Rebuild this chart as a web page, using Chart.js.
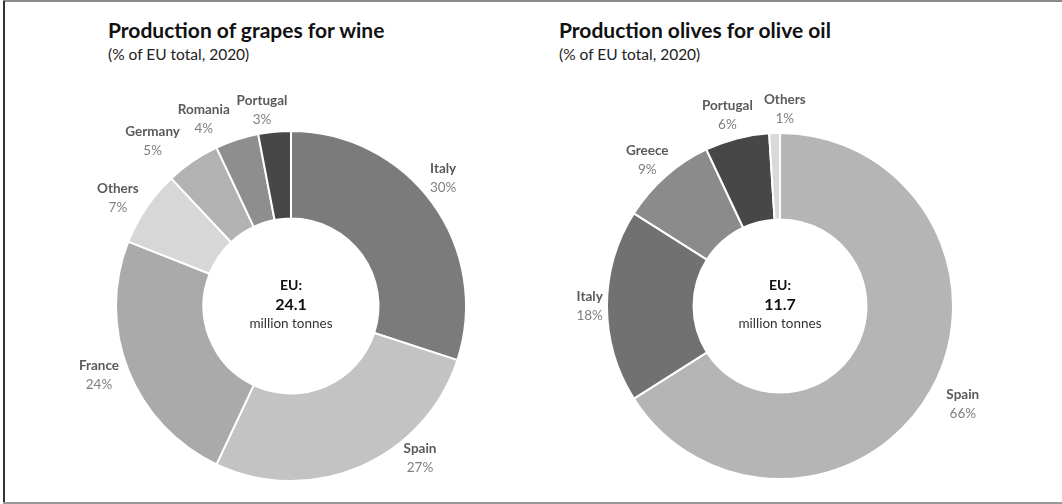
<!DOCTYPE html>
<html>
<head>
<meta charset="utf-8">
<script src="https://cdn.jsdelivr.net/npm/chart.js@4.4.1/dist/chart.umd.min.js"></script>
<style>
  html, body { margin: 0; padding: 0; background: #fff; }
  #wrap { position: relative; width: 1062px; height: 504px; overflow: hidden; background: #fff;
          font-family: Lato, "Open Sans", sans-serif; }
  .bt { position: absolute; left: 3px; right: 0; top: 0; height: 2px; background: #8a8a8a; }
  .bl { position: absolute; left: 3px; top: 1px; bottom: 0; width: 2px; background: #333; }
  .bb { position: absolute; left: 3px; right: 0; bottom: 0; height: 2px; background: #9a9a9a; }
  .title { position: absolute; font-weight: bold; font-size: 21px; color: #111; white-space: nowrap; }
  .sub { position: absolute; font-size: 15.5px; color: #222; white-space: nowrap; }
  canvas { position: absolute; top: 0; }
</style>
</head>
<body>
<div id="wrap">
  <div class="bt"></div><div class="bl"></div><div class="bb"></div>
  <div class="title" style="left:108px; top:17px;">Production of grapes for wine</div>
  <div class="sub" style="left:108px; top:45px;">(% of EU total, 2020)</div>
  <div class="title" style="left:559px; top:17px;">Production olives for olive oil</div>
  <div class="sub" style="left:559px; top:45px;">(% of EU total, 2020)</div>
  <canvas id="c1" width="531" height="504" style="left:0;"></canvas>
  <canvas id="c2" width="531" height="504" style="left:531px;"></canvas>
</div>
<script>
// ---- Data ----
const grapeCountries = ["Italy", "Spain", "France", "Others", "Germany", "Romania", "Portugal"];
const grapeShares    = [30, 27, 24, 7, 5, 4, 3];
const grapeTotal     = "24.1";

const oliveCountries = ["Spain", "Italy", "Greece", "Portugal", "Others"];
const oliveShares    = [66, 18, 9, 6, 1];
const oliveTotal     = "11.7";

// ---- Styling / layout (not data) ----
const grapeColors = ["#7b7b7b", "#c3c3c3", "#aaaaaa", "#d7d7d7", "#b2b2b2", "#8e8e8e", "#474747"];
const oliveColors = ["#b5b5b5", "#717171", "#8b8b8b", "#474747", "#d9d9d9"];
// label placement: [angle from top (deg, clockwise), distance / outer radius]
const grapeLabelPos = [[50, 1.135], [139.7, 1.14], [250.1, 1.167], [301.9, 1.165], [320, 1.23], [335, 1.18], [351.6, 1.134]];
const oliveLabelPos = [[118.3, 1.2], [270, 1.1], [317.7, 1.14], [344.6, 1.145], [1.4, 1.14]];

const labelPlugin = {
  id: 'donutLabels',
  afterDraw(chart, args, opts) {
    const ctx = chart.ctx;
    const meta = chart.getDatasetMeta(0);
    const arc0 = meta.data[0];
    const cx = arc0.x, cy = arc0.y, R = arc0.outerRadius;
    const labels = chart.data.labels;
    const vals = chart.data.datasets[0].data;
    ctx.save();
    ctx.textAlign = 'center';
    ctx.textBaseline = 'middle';
    labels.forEach((lab, i) => {
      const [ang, f] = opts.pos[i];
      const a = ang * Math.PI / 180;
      const x = cx + R * f * Math.sin(a);
      const y = cy - R * f * Math.cos(a);
      ctx.font = 'bold 13.5px Lato, "Open Sans", sans-serif';
      ctx.fillStyle = '#5a5a5a';
      ctx.fillText(lab, x, y - 9.5);
      ctx.font = '13.5px Lato, "Open Sans", sans-serif';
      ctx.fillStyle = '#7f7f7f';
      ctx.fillText(vals[i] + '%', x, y + 9.5);
    });
    // center text
    ctx.fillStyle = '#111';
    ctx.font = 'bold 14px Lato, "Open Sans", sans-serif';
    ctx.fillText('EU:', cx, cy - 21);
    ctx.font = 'bold 16px Lato, "Open Sans", sans-serif';
    ctx.fillText(opts.total, cx, cy - 1);
    ctx.font = '13.5px Lato, "Open Sans", sans-serif';
    ctx.fillStyle = '#333';
    ctx.fillText('million tonnes', cx, cy + 18);
    ctx.restore();
  }
};

function makeDonut(id, labels, data, colors, pos, total, pad) {
  return new Chart(document.getElementById(id), {
    type: 'doughnut',
    data: {
      labels: labels,
      datasets: [{
        data: data,
        backgroundColor: colors,
        borderColor: '#ffffff',
        borderWidth: 2,
        hoverOffset: 0
      }]
    },
    options: {
      responsive: false,
      animation: false,
      cutout: '50%',
      rotation: 0,
      layout: { padding: pad },
      plugins: {
        legend: { display: false },
        tooltip: { enabled: false },
        title: { display: false },
        donutLabels: { pos: pos, total: total }
      }
    },
    plugins: [labelPlugin]
  });
}

makeDonut('c1', grapeCountries, grapeShares, grapeColors, grapeLabelPos, grapeTotal,
  { left: 115, right: 531 - 467, top: 130, bottom: 504 - 482 });
makeDonut('c2', oliveCountries, oliveShares, oliveColors, oliveLabelPos, oliveTotal,
  { left: 606 - 531, right: 1062 - 954, top: 130, bottom: 504 - 482 });
</script>
</body>
</html>
